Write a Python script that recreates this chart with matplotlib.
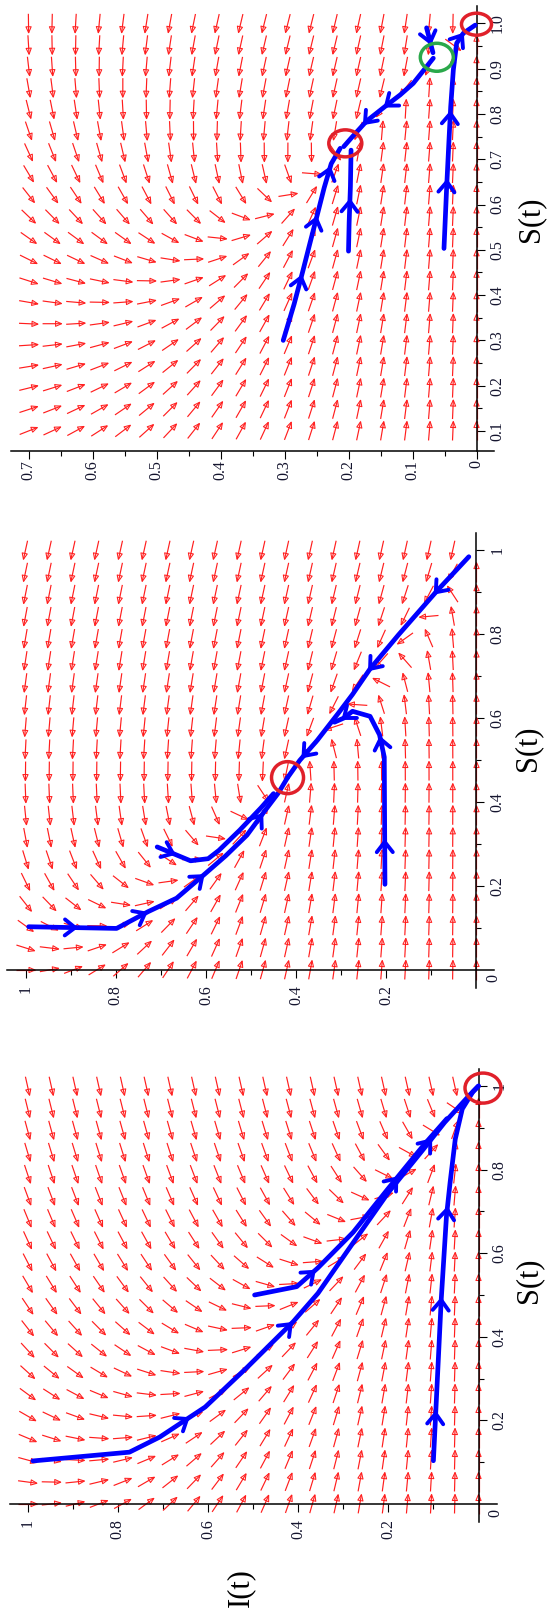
import numpy as np
import matplotlib
matplotlib.use("Agg")
import matplotlib.pyplot as plt
from matplotlib.collections import LineCollection, PolyCollection
from matplotlib.patches import Ellipse
from matplotlib.ticker import FixedLocator, FixedFormatter

W, H = 553, 1613
RED = "#ff1e1e"
BLUE = "#0000ff"
SERIF = "Liberation Serif"

# ---------------- model parameters ----------------
# bottom panel: SIRS model, R0 < 1 (disease-free state stable)
SIRS_LOW = dict(delta=1.0, beta=0.20, gamma=0.45)
# middle panel: SIRS model, R0 > 1 (endemic state stable)
SIRS_HIGH = dict(delta=1.0, beta=0.621, gamma=0.2857)
# top panel: nonlinear incidence / nonlinear removal (bistable case)
BISTABLE = dict(lam=1.6, a=0.784, k=2.0, c0=1.08, c1=-1.087, c2=4.33)

# ---------------- trajectories (I, S) ----------------
# bottom panel
p1_main_I = [0.988, 0.774, 0.707, 0.606, 0.512, 0.411, 0.356, 0.278, 0.200, 0.122, 0.075, 0.020, 0.0]
p1_main_S = [0.103, 0.124, 0.160, 0.232, 0.328, 0.436, 0.504, 0.625, 0.745, 0.849, 0.913, 0.978, 1.0]
p1_mid_I = [0.4965, 0.403, 0.356, 0.278, 0.200, 0.122, 0.070]
p1_mid_S = [0.500, 0.520, 0.565, 0.650, 0.755, 0.858, 0.922]
p1_low_I = [0.100, 0.0906, 0.0827, 0.071, 0.063, 0.0515, 0.036, 0.0125, 0.0]
p1_low_S = [0.1035, 0.312, 0.488, 0.689, 0.769, 0.873, 0.945, 0.986, 1.0]
p1_main_marks = [(0.649, 0.208), (0.418, 0.432), (0.102, 0.865)]
p1_mid_marks = [(0.364, 0.553), (0.184, 0.780)]
p1_low_marks = [(0.0906, 0.216), (0.0827, 0.488), (0.0687, 0.705)]

# middle panel
p2_up_I = [0.993, 0.798, 0.728, 0.665, 0.603, 0.556, 0.509, 0.470, 0.439, 0.419]
p2_up_S = [0.103, 0.099, 0.139, 0.171, 0.228, 0.272, 0.321, 0.378, 0.422, 0.458]
p2_down_I = [0.017, 0.0874, 0.173, 0.236, 0.275, 0.306, 0.353, 0.392, 0.419]
p2_down_S = [0.984, 0.903, 0.798, 0.717, 0.656, 0.612, 0.547, 0.499, 0.458]
p2_bend_I = [0.708, 0.634, 0.595, 0.571, 0.525, 0.478, 0.450]
p2_bend_S = [0.293, 0.260, 0.265, 0.285, 0.333, 0.386, 0.420]
p2_hook_I = [0.203, 0.2045, 0.215, 0.236, 0.275, 0.294, 0.315]
p2_hook_S = [0.204, 0.507, 0.560, 0.604, 0.616, 0.600, 0.590]
p2_up_marks = [(0.89, 0.100), (0.735, 0.135), (0.607, 0.222), (0.480, 0.370)]
p2_down_marks = [(0.384, 0.510), (0.236, 0.717), (0.091, 0.900)]
p2_bend_marks = [(0.673, 0.277)]
p2_hook_marks = [(0.203, 0.305), (0.210, 0.551), (0.294, 0.600)]

# top panel
p3_a_I = [0.302, 0.285, 0.271, 0.260, 0.249, 0.238, 0.227, 0.213]
p3_a_S = [0.300, 0.380, 0.455, 0.516, 0.576, 0.637, 0.690, 0.724]
p3_b_I = [0.200, 0.199, 0.197, 0.196]
p3_b_S = [0.497, 0.560, 0.640, 0.720]
p3_c_I = [0.0508, 0.0466, 0.043, 0.0403, 0.0362, 0.031, 0.0206, 0.002]
p3_c_S = [0.503, 0.639, 0.742, 0.816, 0.897, 0.956, 0.978, 0.996]
p3_d_I = [0.0675, 0.0988, 0.1195, 0.140, 0.1716, 0.1937, 0.2075]
p3_d_S = [0.923, 0.8675, 0.8417, 0.8196, 0.7844, 0.750, 0.7277]
p3_e_I = [0.078, 0.068]
p3_e_S = [0.990, 0.935]
p3_a_marks = [(0.277, 0.440), (0.252, 0.569), (0.221, 0.675)]
p3_b_marks = [(0.198, 0.607)]
p3_c_marks = [(0.044, 0.650), (0.0414, 0.801), (0.023, 0.974)]
p3_d_marks = [(0.141, 0.818), (0.174, 0.780)]
p3_e_marks = [(0.073, 0.958)]

# equilibria rings: (I, S, width px, height px, colour)
p1_rings = [(-0.01, 0.995, 36, 30, "#e0202a")]
p2_rings = [(0.419, 0.458, 32, 32, "#e0202a")]
p3_rings = [(0.0, 0.998, 30, 22, "#e0202a"),
            (0.205, 0.735, 33, 27, "#e0202a"),
            (0.062, 0.925, 33, 28, "#2aa84a")]

# ---------------- axis ticks ----------------
unit_major = [0.2, 0.4, 0.6, 0.8, 1.0]
unit_minor = [0.1, 0.3, 0.5, 0.7, 0.9]
unit_labels = ["0.2", "0.4", "0.6", "0.8", "1"]
p3_I_major = [0.0, 0.1, 0.2, 0.3, 0.4, 0.5, 0.6, 0.7]
p3_I_labels = ["0", "0.1", "0.2", "0.3", "0.4", "0.5", "0.6", "0.7"]
p3_I_minor = [0.05, 0.15, 0.25, 0.35, 0.45, 0.55, 0.65]
p3_S_major = [0.1, 0.2, 0.3, 0.4, 0.5, 0.6, 0.7, 0.8, 0.9, 1.0]
p3_S_labels = ["0.1", "0.2", "0.3", "0.4", "0.5", "0.6", "0.7", "0.8", "0.9", "1.0"]
p3_S_minor = [0.15, 0.25, 0.35, 0.45, 0.55, 0.65, 0.75, 0.85, 0.95]

fig = plt.figure(figsize=(W / 100, H / 100), dpi=100)


def sirs(p):
    def f(S, I):
        inc = p["beta"] * S * I
        return p["delta"] * (1 - S - I) - inc, inc - p["gamma"] * I
    return f


def bistable(p):
    def f(S, I):
        inc = S * I * (1 + p["k"] * I)
        dS = p["lam"] * (p["a"] * (1 - S) - inc)
        dI = inc - I * (p["c0"] + p["c1"] * I + p["c2"] * I ** 2)
        return dS, dI
    return f


def make_panel(I0x, pxI, S0y, pxS, I_lo, I_hi, S_lo, S_hi):
    x_left = I0x - I_hi * pxI
    x_right = I0x - I_lo * pxI
    y_top = S0y - S_hi * pxS
    y_bot = S0y - S_lo * pxS
    ax = fig.add_axes([x_left / W, 1 - y_bot / H,
                       (x_right - x_left) / W, (y_bot - y_top) / H])
    ax.set_xlim(I_hi, I_lo)
    ax.set_ylim(S_lo, S_hi)
    ax.patch.set_visible(False)
    return ax


def style(ax, Imaj, Ilab, Imin, Smaj, Slab, Smin, cross, xpad, ypad):
    for s in ("top", "left"):
        ax.spines[s].set_visible(False)
    ax.spines["right"].set_position(("data", 0))
    if cross:
        ax.spines["bottom"].set_position(("data", 0))
    for s in ("right", "bottom"):
        ax.spines[s].set_linewidth(1.1)
    ax.yaxis.tick_right()
    ax.xaxis.set_major_locator(FixedLocator(Imaj))
    ax.xaxis.set_major_formatter(FixedFormatter(Ilab))
    ax.xaxis.set_minor_locator(FixedLocator(Imin))
    ax.yaxis.set_major_locator(FixedLocator(Smaj))
    ax.yaxis.set_major_formatter(FixedFormatter(Slab))
    ax.yaxis.set_minor_locator(FixedLocator(Smin))
    ax.tick_params(which="major", direction="out", length=5.8, width=0.8,
                   labelsize=11.5, labelcolor="#14142e")
    ax.tick_params(which="minor", direction="out", length=3.6, width=0.8)
    ax.tick_params(axis="x", which="major", pad=xpad, labelrotation=90)
    ax.tick_params(axis="y", which="major", pad=ypad, labelrotation=90)
    for lab in ax.get_xticklabels() + ax.get_yticklabels():
        lab.set_fontfamily(SERIF)
    for lab in ax.get_yticklabels():
        lab.set_verticalalignment("center")


def field(ax, I_nodes, S_nodes, rhs, pxI, pxS, L=19.0, hl=6.0, hw=2.6):
    segs, heads = [], []
    for S in S_nodes:
        for I in I_nodes:
            dS, dI = rhs(S, I)
            vx, vy = -dI * pxI, dS * pxS
            n = np.hypot(vx, vy)
            if n < 1e-9:
                continue
            ux, uy = vx / n, vy / n

            def to_data(px, py):
                return (I - px / pxI, S + py / pxS)

            tail = to_data(-0.5 * L * ux, -0.5 * L * uy)
            tip = to_data(0.5 * L * ux, 0.5 * L * uy)
            segs.append([tail, tip])
            bx, by = (0.5 * L - hl) * ux, (0.5 * L - hl) * uy
            heads.append([tip,
                          to_data(bx - hw * uy, by + hw * ux),
                          to_data(bx + hw * uy, by - hw * ux)])
    ax.add_collection(LineCollection(segs, colors=RED, linewidths=0.85, zorder=2))
    ax.add_collection(PolyCollection(heads, facecolors="none", edgecolors=RED,
                                     linewidths=0.75, zorder=2))


def trajectory(ax, I_c, S_c, marks, pxI, pxS, arm=13.0, spread=38.0):
    ax.plot(I_c, S_c, color=BLUE, lw=3.4, solid_capstyle="round",
            solid_joinstyle="round", zorder=5, clip_on=False)
    X = -np.asarray(I_c) * pxI
    Y = np.asarray(S_c) * pxS
    for Ip, Sp in marks:
        px, py = -Ip * pxI, Sp * pxS
        best = None
        for j in range(len(X) - 1):
            dx, dy = X[j + 1] - X[j], Y[j + 1] - Y[j]
            t = np.clip(((px - X[j]) * dx + (py - Y[j]) * dy) / (dx * dx + dy * dy), 0, 1)
            cx, cy = X[j] + t * dx, Y[j] + t * dy
            d = np.hypot(cx - px, cy - py)
            if best is None or d < best[0]:
                best = (d, dx, dy, cx, cy)
        _, dx, dy, cx, cy = best
        n = np.hypot(dx, dy)
        ux, uy = dx / n, dy / n
        for sgn in (1, -1):
            a = np.radians(180 + sgn * spread)
            vx = ux * np.cos(a) - uy * np.sin(a)
            vy = ux * np.sin(a) + uy * np.cos(a)
            ex, ey = cx + arm * vx, cy + arm * vy
            ax.plot([-cx / pxI, -ex / pxI], [cy / pxS, ey / pxS], color=BLUE,
                    lw=2.8, solid_capstyle="round", zorder=6, clip_on=False)


def rings(ax, items, pxI, pxS):
    for I, S, w, h, col in items:
        ax.add_patch(Ellipse((I, S), w / pxI, h / pxS, fill=False,
                             edgecolor=col, lw=2.5, zorder=7, clip_on=False))


def fig_text(x, y, s, size):
    fig.text(x / W, 1 - y / H, s, rotation=90, ha="center", va="center",
             fontsize=size, family=SERIF, color="black")


# ---------------- top panel ----------------
sc3 = (640.0, 453.0)
ax3 = make_panel(476.5, sc3[0], 476.3, sc3[1], -0.0273, 0.727, 0.0565, 1.038)
style(ax3, p3_I_major, p3_I_labels, p3_I_minor, p3_S_major, p3_S_labels, p3_S_minor,
      cross=False, xpad=1.0, ypad=3.4)
field(ax3, np.linspace(0, 0.7, 20), np.linspace(0.1, 1.0, 20), bistable(BISTABLE), *sc3)
for Ic, Sc, mk in [(p3_a_I, p3_a_S, p3_a_marks), (p3_b_I, p3_b_S, p3_b_marks),
                   (p3_c_I, p3_c_S, p3_c_marks), (p3_d_I, p3_d_S, p3_d_marks),
                   (p3_e_I, p3_e_S, p3_e_marks)]:
    trajectory(ax3, Ic, Sc, mk, *sc3)
rings(ax3, p3_rings, *sc3)
fig_text(531, 219, "S(t)", 22)

# ---------------- middle panel ----------------
sc2 = (451.0, 420.0)
ax2 = make_panel(476.5, sc2[0], 970.0, sc2[1], -0.0395, 1.04, -0.043, 1.04)
style(ax2, unit_major, unit_labels, unit_minor, unit_major, unit_labels, unit_minor,
      cross=True, xpad=5.0, ypad=3.4)
field(ax2, np.linspace(0, 1, 20), np.linspace(0, 1, 20), sirs(SIRS_HIGH), *sc2)
for Ic, Sc, mk in [(p2_up_I, p2_up_S, p2_up_marks), (p2_down_I, p2_down_S, p2_down_marks),
                   (p2_bend_I, p2_bend_S, p2_bend_marks), (p2_hook_I, p2_hook_S, p2_hook_marks)]:
    trajectory(ax2, Ic, Sc, mk, *sc2)
rings(ax2, p2_rings, *sc2)
ax2.annotate("0", xy=(0, 0), xycoords="data", xytext=(12.5, -5.8),
             textcoords="offset points", rotation=90, ha="center", va="center",
             fontsize=11.5, family=SERIF, color="#14142e")
fig_text(528, 748, "S(t)", 22)

# ---------------- bottom panel ----------------
sc1 = (451.0, 418.0)
ax1 = make_panel(478.5, sc1[0], 1504.0, sc1[1], -0.041, 1.039, -0.043, 1.04)
style(ax1, unit_major, unit_labels, unit_minor, unit_major, unit_labels, unit_minor,
      cross=True, xpad=5.0, ypad=3.4)
field(ax1, np.linspace(0, 1, 20), np.linspace(0, 1, 20), sirs(SIRS_LOW), *sc1)
for Ic, Sc, mk in [(p1_main_I, p1_main_S, p1_main_marks), (p1_mid_I, p1_mid_S, p1_mid_marks),
                   (p1_low_I, p1_low_S, p1_low_marks)]:
    trajectory(ax1, Ic, Sc, mk, *sc1)
rings(ax1, p1_rings, *sc1)
ax1.annotate("0", xy=(0, 0), xycoords="data", xytext=(12.0, -6.2),
             textcoords="offset points", rotation=90, ha="center", va="center",
             fontsize=11.5, family=SERIF, color="#14142e")
fig_text(529, 1280, "S(t)", 22)
fig_text(241, 1588, "I(t)", 22)

fig.savefig("out.png", dpi=100)
